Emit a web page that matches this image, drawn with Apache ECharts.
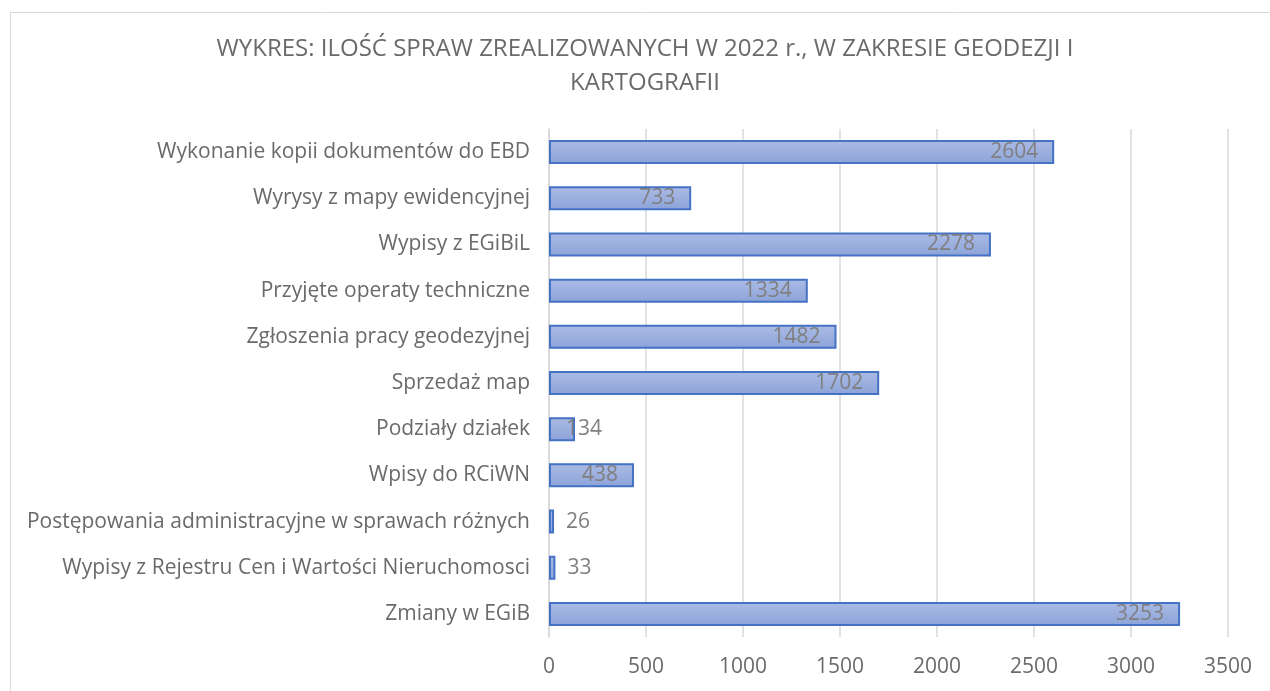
<!DOCTYPE html>
<html>
<head>
<meta charset="utf-8">
<script src="https://cdn.jsdelivr.net/npm/echarts@6/dist/echarts.min.js"></script>
<style>
  html, body { margin: 0; padding: 0; background: #fff; }
  #main { width: 1270px; height: 691px; }
</style>
</head>
<body>
<div id="main"></div>
<script>
const titleText = 'WYKRES: ILOŚĆ SPRAW ZREALIZOWANYCH W 2022 r., W ZAKRESIE GEODEZJI I\nKARTOGRAFII';

const categories = [
  'Wykonanie kopii dokumentów do EBD',
  'Wyrysy z mapy ewidencyjnej',
  'Wypisy z EGiBiL',
  'Przyjęte operaty techniczne',
  'Zgłoszenia pracy geodezyjnej',
  'Sprzedaż map',
  'Podziały działek',
  'Wpisy do RCiWN',
  'Postępowania administracyjne w sprawach różnych',
  'Wypisy z Rejestru Cen i Wartości Nieruchomosci',
  'Zmiany w EGiB'
];

const values = [2604, 733, 2278, 1334, 1482, 1702, 134, 438, 26, 33, 3253];

const xTicks = [0, 500, 1000, 1500, 2000, 2500, 3000, 3500];

const font = 'Open Sans';
const textGray = '#6a6a6a';

let chart = echarts.init(document.getElementById('main'));

// where the value label sits, depends on how long the bar is
function labelFor(v) {
  if (v < 60) {
    return { position: 'right', distance: 12 };
  }
  if (v < 200) {
    return { position: 'insideLeft', distance: 17 };
  }
  return { position: 'insideRight', distance: 16 };
}

let barData = values.map(function (v) {
  return { value: v, label: labelFor(v) };
});

let options = {
  animation: false,
  backgroundColor: '#ffffff',
  graphic: [
    {
      type: 'rect',
      shape: { x: 10.5, y: 12.5, width: 1300, height: 700 },
      style: { fill: 'none', stroke: '#d9d9d9', lineWidth: 1 }
    }
  ],
  title: {
    text: titleText,
    left: 640,
    top: 27,
    textAlign: 'center',
    textStyle: {
      fontFamily: font,
      fontSize: 24,
      fontWeight: 'normal',
      color: textGray,
      lineHeight: 34
    }
  },
  grid: {
    left: 549,
    right: 42,
    top: 129,
    bottom: 54,
    containLabel: false
  },
  xAxis: {
    type: 'value',
    min: xTicks[0],
    max: xTicks[xTicks.length - 1],
    interval: 500,
    axisLine: { show: false },
    axisTick: { show: false },
    splitLine: { show: true, lineStyle: { color: '#d9d9d9', width: 1.5 } },
    axisLabel: {
      color: textGray,
      fontFamily: font,
      fontSize: 21,
      margin: 20,
      formatter: function (v) { return String(v); }
    }
  },
  yAxis: {
    type: 'category',
    data: categories,
    inverse: true,
    axisLine: { show: true, lineStyle: { color: '#d9d9d9', width: 1.5 } },
    axisTick: { show: false },
    axisLabel: {
      color: textGray,
      fontFamily: font,
      fontSize: 21,
      margin: 19
    }
  },
  series: [
    {
      type: 'bar',
      data: barData,
      barWidth: '52%',
      itemStyle: {
        color: new echarts.graphic.LinearGradient(0, 0, 0, 1, [
          { offset: 0, color: '#abbbe4' },
          { offset: 1, color: '#8ca3d9' }
        ]),
        borderColor: '#4472c4',
        borderWidth: 2
      },
      label: {
        show: true,
        color: '#7f7f7f',
        fontFamily: font,
        fontSize: 21
      }
    }
  ]
};

chart.setOption(options);
</script>
</body>
</html>
